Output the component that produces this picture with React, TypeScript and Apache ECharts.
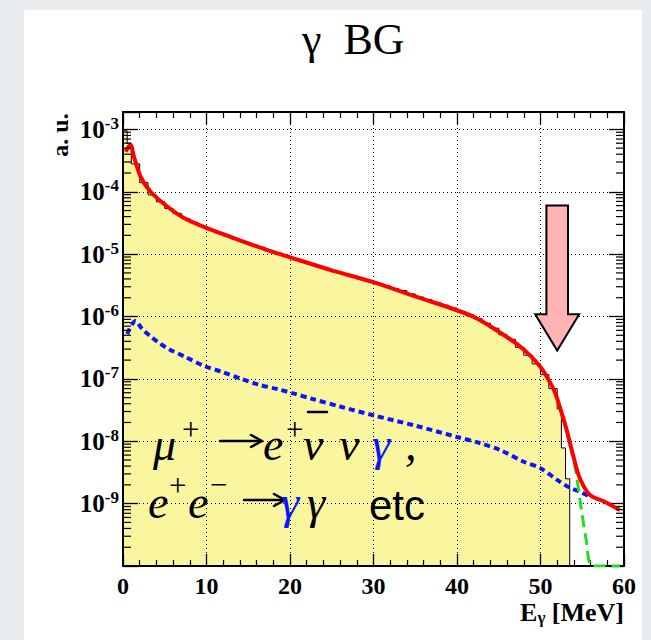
import React, { useEffect, useRef } from "react";
import * as echarts from "echarts";

// ---- axes ----
const X_MIN = 0;
const X_MAX = 60;
const X_STEP = 10;
const Y_MIN = 1e-10;
const Y_MAX = 1.9e-3;
const Y_LABEL_EXPONENTS = [-9, -8, -7, -6, -5, -4, -3];

// ---- yellow histogram (bin edges in MeV, contents in a.u.) ----
const HIST_EDGES = [
  0, 0.5, 1, 2, 3, 4, 5, 6, 7, 8, 9, 10, 11, 12, 13, 14, 15, 16, 17, 18, 19, 20,
  21, 22, 23, 24, 25, 26, 27, 28, 29, 30, 31, 32, 33, 34, 35, 36, 37, 38, 39, 40,
  41, 42, 43, 44, 45, 46, 47, 48, 49, 50, 51, 52, 52.5, 53, 53.5,
];
const HIST_VALUES = [
  9.5e-4, 6.0e-4, 2.8e-4, 1.4e-4, 8.9e-5, 6.9e-5, 5.4e-5, 4.5e-5, 3.7e-5, 3.2e-5,
  2.8e-5, 2.45e-5, 2.2e-5, 1.95e-5, 1.74e-5, 1.58e-5, 1.41e-5, 1.29e-5, 1.15e-5,
  1.04e-5, 9.4e-6, 8.5e-6, 7.7e-6, 7.0e-6, 6.3e-6, 5.7e-6, 5.2e-6, 4.8e-6, 4.4e-6,
  4.0e-6, 3.7e-6, 3.4e-6, 3.1e-6, 2.8e-6, 2.6e-6, 2.3e-6, 2.05e-6, 1.86e-6, 1.68e-6,
  1.52e-6, 1.36e-6, 1.2e-6, 1.06e-6, 9.2e-7, 7.8e-7, 6.5e-7, 5.1e-7, 4.3e-7, 3.2e-7,
  2.4e-7, 1.74e-7, 1.17e-7, 7.0e-8, 3.3e-8, 7.8e-9, 2.5e-9,
];

// ---- red total curve ----
const RED_X = [
  0.3, 0.9, 1.3, 2.1, 3.3, 5.3, 7.3, 10, 13.2, 17.2, 20, 25, 30, 35, 40, 42.4, 45.1,
  47.2, 48.8, 50, 50.9, 51.7, 52.5, 53.2, 53.9, 54.7, 55.9, 57.5, 59.5,
];
const RED_Y = [
  4.4e-4, 5.6e-4, 3.7e-4, 1.75e-4, 1.0e-4, 5.8e-5, 3.8e-5, 2.63e-5, 1.82e-5, 1.17e-5,
  8.9e-6, 5.5e-6, 3.55e-6, 2.1e-6, 1.26e-6, 9.3e-7, 5.6e-7, 3.6e-7, 2.34e-7, 1.55e-7,
  1.0e-7, 6.2e-8, 2.95e-8, 1.41e-8, 6.0e-9, 2.57e-9, 1.38e-9, 1.1e-9, 7.9e-10,
];

// ---- blue dotted curve ----
const BLUE_X = [
  0.5, 1.5, 2.3, 3.3, 4.3, 5.5, 7.5, 9.7, 11.9, 14.2, 16.2, 18.6, 20.6, 22.6, 26, 30,
  35, 40, 42.8, 45.2, 48, 50, 52, 53.3, 54.7, 55.9,
];
const BLUE_Y = [
  5.25e-7, 8.5e-7, 6.3e-7, 4.8e-7, 3.8e-7, 3.0e-7, 2.24e-7, 1.62e-7, 1.29e-7, 1.0e-7,
  8.1e-8, 6.8e-8, 5.75e-8, 4.8e-8, 3.6e-8, 2.6e-8, 1.78e-8, 1.17e-8, 9.3e-9, 7.2e-9,
  4.7e-9, 3.7e-9, 2.4e-9, 1.86e-9, 1.55e-9, 1.3e-9,
];

// ---- green dashed curve ----
const GREEN_X = [52.4, 53.2, 54.2, 54.9, 55.5, 56.1, 59.5];
const GREEN_Y = [3.2e-8, 1.35e-8, 3.5e-9, 7.9e-10, 2.5e-10, 1e-10, 1e-10];

// ---- signal-region arrow (x in MeV; top, head base, tip in a.u.) ----
const ARROW = [52.0, 6.0e-5, 1.09e-6, 2.84e-7];

const SERIF = "'Liberation Serif', 'Times New Roman', serif";
const SANS = "'Liberation Sans', Arial, sans-serif";
const BLUE = "#0a14ff";

function minorTickValues(): number[] {
  const out: number[] = [];
  for (let e = -10; e <= -3; e++) {
    for (let k = 2; k <= 9; k++) {
      const v = k * Math.pow(10, e);
      if (v < Y_MAX) out.push(v);
    }
  }
  return out;
}

function yLabel(v: number): string {
  const l = Math.log10(v);
  const e = Math.round(l);
  if (Math.abs(l - e) > 0.01) return "";
  if (Y_LABEL_EXPONENTS.indexOf(e) < 0) return "";
  return `{b|10}{s|${e}}`;
}

export default function App() {
  const ref = useRef<HTMLDivElement>(null);
  useEffect(() => {
    if (!ref.current) return;
    const chart = echarts.init(ref.current, undefined, { renderer: "svg" });

    const histData: number[][] = HIST_VALUES.map((v, i) => [HIST_EDGES[i], v]);
    histData.push([HIST_EDGES[HIST_EDGES.length - 1], Y_MIN]);

    const xAxisBase = {
      type: "value",
      min: X_MIN,
      max: X_MAX,
      interval: X_STEP,
      z: 2,
      axisLine: { show: true, onZero: false, lineStyle: { color: "#000", width: 2 } },
      axisTick: { show: true, inside: true, length: 12, lineStyle: { color: "#000", width: 1.3 } },
      minorTick: { show: true, splitNumber: 5, length: 6, lineStyle: { color: "#000", width: 1.2 } },
      minorSplitLine: { show: false },
    };
    const yAxisBase = {
      type: "log",
      logBase: 10,
      min: Y_MIN,
      max: Y_MAX,
      z: 2,
      axisLine: { show: true, onZero: false, lineStyle: { color: "#000", width: 2 } },
      axisTick: { show: true, inside: true, length: 15, lineStyle: { color: "#000", width: 1.3 } },
      minorTick: { show: false },
      minorSplitLine: { show: false },
    };

    const textEl = (
      x: number,
      y: number,
      text: string,
      size: number,
      opts: any = {}
    ) => ({
      type: "text",
      x,
      y,
      z: 10,
      style: {
        text,
        fontSize: size,
        fontFamily: opts.family || SERIF,
        fontStyle: opts.italic ? "italic" : "normal",
        fontWeight: opts.bold ? "bold" : "normal",
        fill: opts.color || "#000",
        align: opts.align || "left",
        verticalAlign: "middle",
      },
    });
    const lineEl = (x1: number, y1: number, x2: number, y2: number, w = 2.5) => ({
      type: "line",
      z: 10,
      shape: { x1, y1, x2, y2 },
      style: { stroke: "#000", lineWidth: w, lineCap: "round" },
    });
    const arrowEls = (x1: number, x2: number, y: number) => [
      lineEl(x1, y, x2 - 1, y, 2.5),
      lineEl(x2 - 11, y - 6, x2, y, 2.5),
      lineEl(x2 - 11, y + 6, x2, y, 2.5),
    ];

    const option: any = {
      animation: false,
      backgroundColor: "#e9ecef",
      grid: { left: 123, right: 27, top: 112, bottom: 74, outerBoundsMode: "none", containLabel: false },
      xAxis: [
        {
          ...xAxisBase,
          position: "bottom",
          axisLabel: {
            show: true,
            margin: 8,
            color: "#000",
            fontFamily: SERIF,
            fontWeight: "bold",
            fontSize: 24,
          },
          splitLine: { show: true, lineStyle: { color: "#000", width: 1, type: [1, 3] } },
        },
        {
          ...xAxisBase,
          position: "top",
          axisLabel: { show: false },
          splitLine: { show: false },
        },
      ],
      yAxis: [
        {
          ...yAxisBase,
          position: "left",
          axisLabel: {
            show: true,
            margin: 4,
            color: "#000",
            formatter: yLabel,
            rich: {
              b: { fontFamily: SERIF, fontWeight: "bold", fontSize: 25, color: "#000" },
              s: {
                fontFamily: SERIF,
                fontWeight: "bold",
                fontSize: 17,
                color: "#000",
                verticalAlign: "top",
                padding: [0, 0, 12, 0],
              },
            },
          },
          splitLine: { show: true, lineStyle: { color: "#000", width: 1, type: [1, 3] } },
        },
        {
          ...yAxisBase,
          position: "right",
          axisLabel: { show: false },
          splitLine: { show: false },
        },
      ],
      series: [
        {
          name: "histogram",
          type: "line",
          step: "end",
          xAxisIndex: 0,
          yAxisIndex: 0,
          data: histData,
          symbol: "none",
          z: 1,
          lineStyle: { color: "#000", width: 1 },
          areaStyle: { color: "#faf6a0", opacity: 1, origin: "start" },
        },
        {
          name: "blue",
          type: "line",
          xAxisIndex: 0,
          yAxisIndex: 0,
          data: BLUE_X.map((x, i) => [x, BLUE_Y[i]]),
          symbol: "none",
          smooth: 0.3,
          z: 3,
          lineStyle: { color: BLUE, width: 4, type: [6, 4] },
        },
        {
          name: "green",
          type: "line",
          xAxisIndex: 0,
          yAxisIndex: 0,
          data: GREEN_X.map((x, i) => [x, GREEN_Y[i]]),
          symbol: "none",
          smooth: 0.2,
          z: 3,
          lineStyle: { color: "#22dd22", width: 3, type: [12, 6] },
        },
        {
          name: "red",
          type: "line",
          xAxisIndex: 0,
          yAxisIndex: 0,
          data: RED_X.map((x, i) => [x, RED_Y[i]]),
          symbol: "none",
          smooth: 0.3,
          z: 4,
          lineStyle: { color: "#ff0000", width: 4 },
        },
        {
          name: "minorTicks",
          type: "custom",
          xAxisIndex: 0,
          yAxisIndex: 0,
          silent: true,
          z: 5,
          data: minorTickValues().map((v) => [X_MIN, v]),
          renderItem: (params: any, api: any) => {
            const v = api.value(1);
            const pl = api.coord([X_MIN, v]);
            const pr = api.coord([X_MAX, v]);
            return {
              type: "group",
              children: [
                { type: "line", shape: { x1: pl[0], y1: pl[1], x2: pl[0] + 8, y2: pl[1] }, style: { stroke: "#000", lineWidth: 1.2 } },
                { type: "line", shape: { x1: pr[0] - 8, y1: pr[1], x2: pr[0], y2: pr[1] }, style: { stroke: "#000", lineWidth: 1.2 } },
              ],
            };
          },
        },
        {
          name: "arrow",
          type: "custom",
          xAxisIndex: 0,
          yAxisIndex: 0,
          silent: true,
          z: 6,
          data: [ARROW],
          renderItem: (params: any, api: any) => {
            const x = api.value(0);
            const top = api.coord([x, api.value(1)]);
            const head = api.coord([x, api.value(2)]);
            const tip = api.coord([x, api.value(3)]);
            const cx = top[0];
            const w = 10.8;
            const W = 22;
            return {
              type: "polygon",
              shape: {
                points: [
                  [cx - w, top[1]],
                  [cx + w, top[1]],
                  [cx + w, head[1]],
                  [cx + W, head[1]],
                  [cx, tip[1]],
                  [cx - W, head[1]],
                  [cx - w, head[1]],
                ],
              },
              style: { fill: "#ffb3b3", stroke: "#000", lineWidth: 2 },
            };
          },
        },
      ],
      graphic: [
        {
          type: "rect",
          z: -10,
          silent: true,
          shape: { x: 24, y: 10, width: 618, height: 640 },
          style: { fill: "#ffffff" },
        },
        textEl(302, 39, "γ  BG", 44),
        {
          type: "text",
          z: 10,
          x: 60,
          y: 135,
          rotation: Math.PI / 2,
          style: {
            text: "a. u.",
            fontFamily: SERIF,
            fontWeight: "bold",
            fontSize: 24,
            fill: "#000",
            align: "center",
            verticalAlign: "middle",
          },
        },
        {
          type: "text",
          z: 10,
          x: 624,
          y: 612,
          style: {
            text: "{a|E}{g|γ}{a| [MeV]}",
            align: "right",
            verticalAlign: "middle",
            rich: {
              a: { fontFamily: SERIF, fontWeight: "bold", fontSize: 26, fill: "#000" },
              g: { fontFamily: SERIF, fontWeight: "bold", fontSize: 17, fill: "#000", verticalAlign: "bottom", padding: [10, 0, 0, 0] },
            },
          },
        },
        // line 1: mu+ -> e+ nubar nu gamma ,
        textEl(153, 444, "μ", 46, { italic: true }),
        textEl(182, 429, "+", 31),
        ...arrowEls(220, 262, 441),
        textEl(263, 444, "e", 46, { italic: true }),
        textEl(286, 429, "+", 31),
        textEl(303, 444, "ν", 46, { italic: true }),
        lineEl(308, 412, 327, 412, 2.5),
        textEl(339, 444, "ν", 46, { italic: true }),
        textEl(372, 444, "γ", 46, { italic: true, color: BLUE }),
        textEl(405, 444, ",", 46, { italic: true }),
        // line 2: e+ e- -> gamma gamma etc
        textEl(148, 502, "e", 46, { italic: true }),
        textEl(169, 485, "+", 31),
        textEl(188, 502, "e", 46, { italic: true }),
        textEl(210, 484, "−", 31),
        ...arrowEls(244, 285, 500),
        textEl(281, 502, "γ", 46, { italic: true, color: BLUE }),
        textEl(307, 502, "γ", 46, { italic: true }),
        textEl(369, 505, "etc", 42, { family: SANS }),
      ],
    };

    chart.setOption(option);
    return () => chart.dispose();
  }, []);

  return (
    <div
      ref={ref}
      style={{ position: "absolute", left: 0, top: 0, width: 651, height: 640 }}
    />
  );
}
